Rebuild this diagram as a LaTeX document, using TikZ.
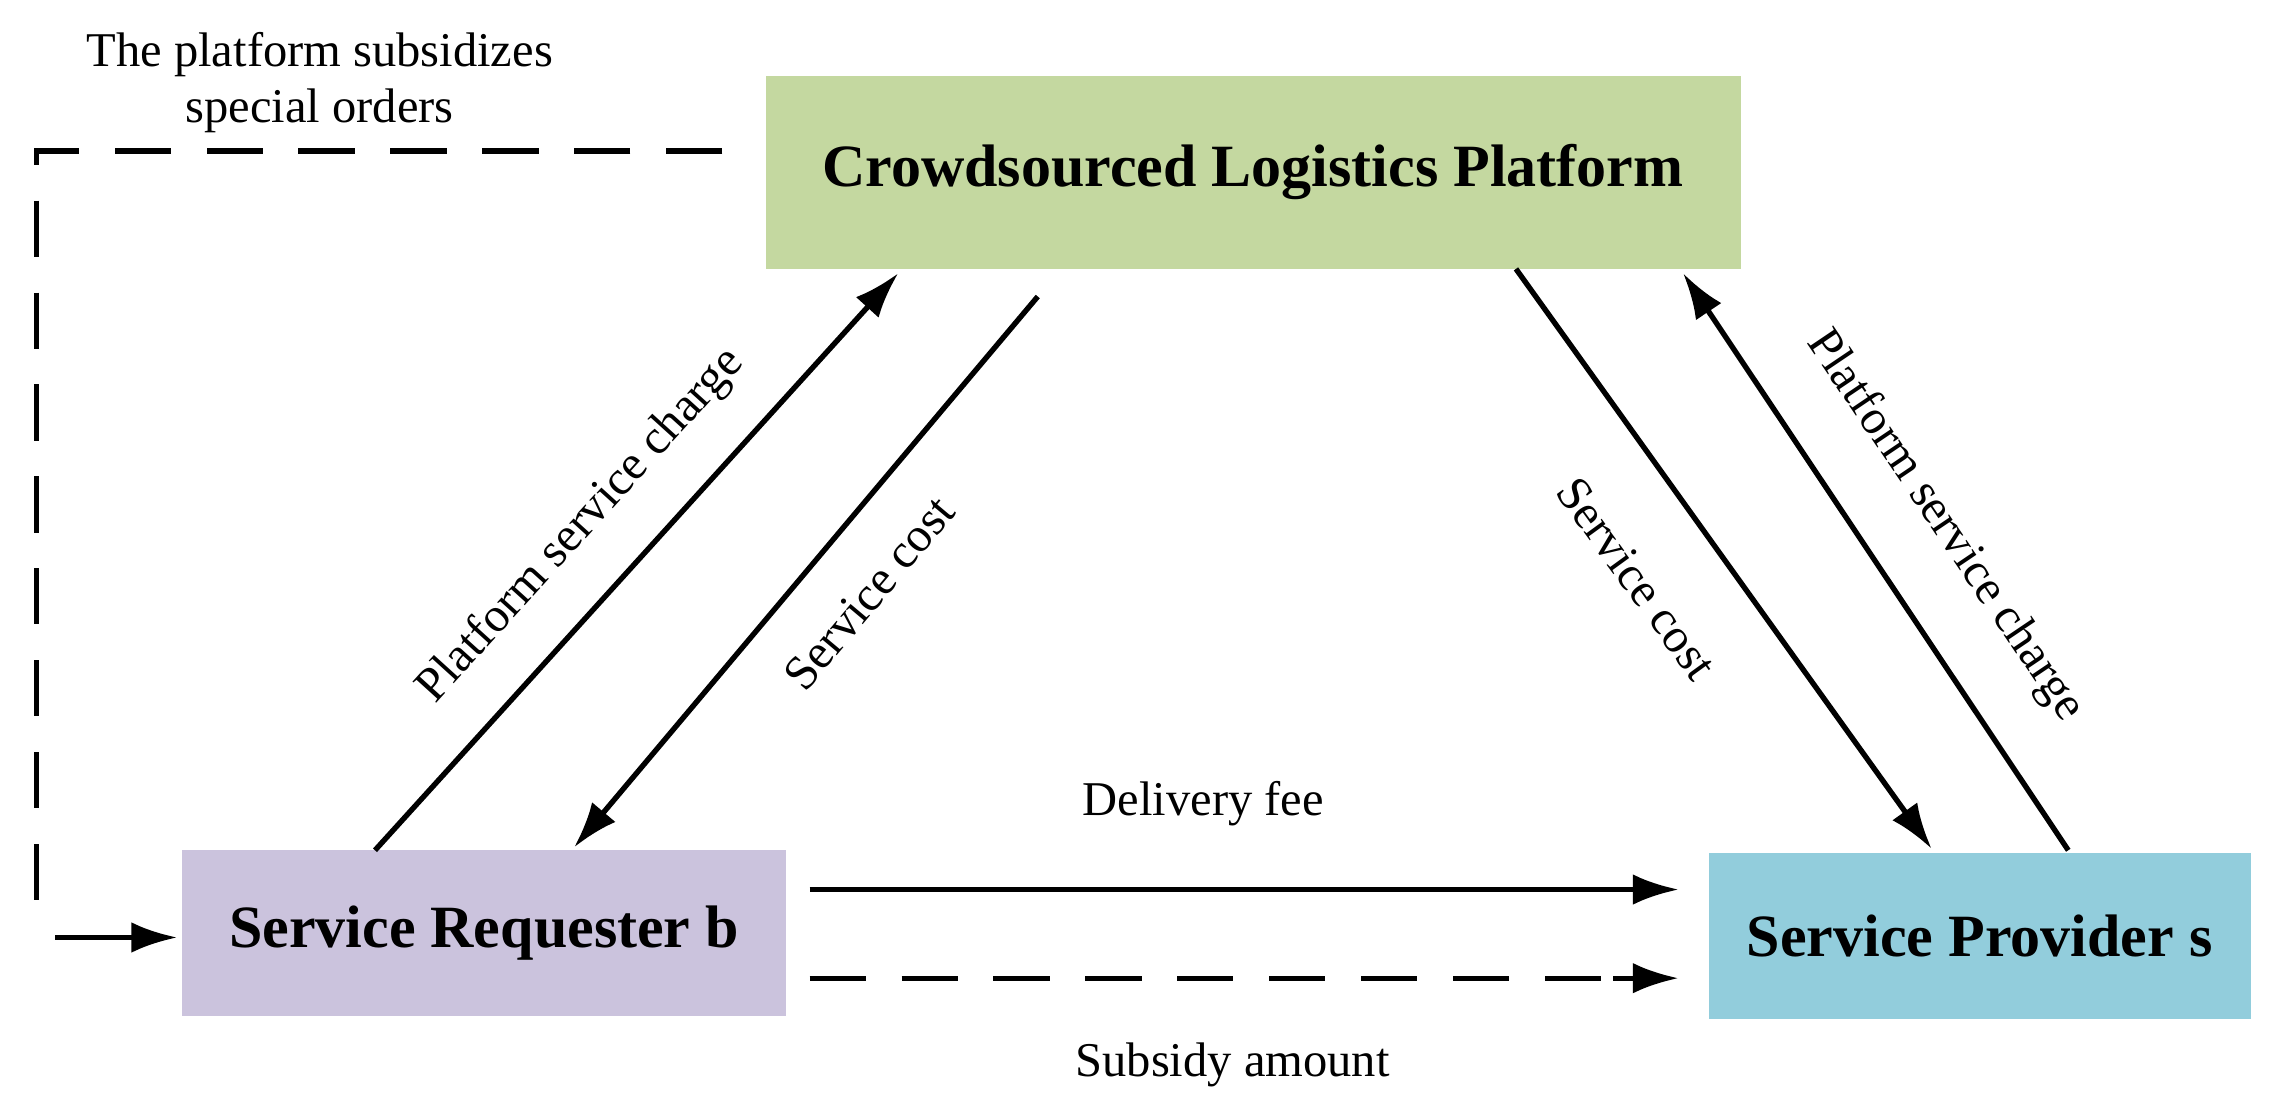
\documentclass[tikz,border=0pt]{standalone}
\usepackage{fontspec}
\setmainfont{Liberation Serif}
\usetikzlibrary{arrows.meta}
\begin{document}
\begin{tikzpicture}[x=0.02cm,y=-0.02cm,
  lbl/.style={font=\fontsize{19}{22}\selectfont},
  big/.style={font=\fontsize{23.5}{26}\selectfont\bfseries},
  arr/.style={line width=2.1pt,-{Latex[length=18pt,width=12pt]}},
  dsh/.style={line width=2.1pt,dash pattern=on 22pt off 14pt}]
\useasboundingbox (0,0) rectangle (1568,762);
\definecolor{cg}{HTML}{C4D8A0}
\definecolor{cp}{HTML}{CBC3DD}
\definecolor{cb}{HTML}{92CDDC}
\fill[cg] (527,52) rectangle (1198,185);
\fill[cp] (125,585) rectangle (541,699);
\fill[cb] (1176,587) rectangle (1549,701);
\node[big] (P) at (862,118) {Crowdsourced Logistics Platform};
\node[big] (R) at (333,642) {Service Requester b};
\node[big] (S) at (1362,644) {Service Provider s};
\coordinate (a1) at (258,585); \coordinate (a2) at (618,188);
\coordinate (b1) at (714,204); \coordinate (b2) at (395,583);
\coordinate (c1) at (1043,185); \coordinate (c2) at (1329,584);
\coordinate (d1) at (1423,585); \coordinate (d2) at (1158,188);
\coordinate (e1) at (557,612); \coordinate (e2) at (1155,612);
\coordinate (f1) at (557,673); \coordinate (f2) at (1155,673);
\coordinate (g1) at (497,104); \coordinate (g2) at (25,104); \coordinate (g3) at (25,622);
\coordinate (h1) at (38,645); \coordinate (h2) at (122,645);
\draw[arr] (a1) -- (a2);
\draw[arr] (b1) -- (b2);
\draw[arr] (c1) -- (c2);
\draw[arr] (d1) -- (d2);
\draw[arr] (e1) -- (e2);
\draw[dsh] (f1) -- (1110,673);
\draw[arr] (1110,673) -- (f2);
\draw[dsh] (g1) -- (g2) -- (g3);
\draw[arr] (h1) -- (h2);
\node[lbl,align=center] (t) at (220,57) {The platform subsidizes\\special orders};
\node[lbl] (df) at (828,553) {Delivery fee};
\node[lbl] (sa) at (848,733) {Subsidy amount};
\node[lbl,rotate=47.8] (l1) at (400,362) {Platform service charge};
\node[lbl,rotate=50] (l2) at (598,408) {Service cost};
\node[lbl,rotate=-54] (l3) at (1126,398) {Service cost};
\node[lbl,rotate=-56] (l4) at (1338,362) {Platform service charge};
\end{tikzpicture}
\end{document}
